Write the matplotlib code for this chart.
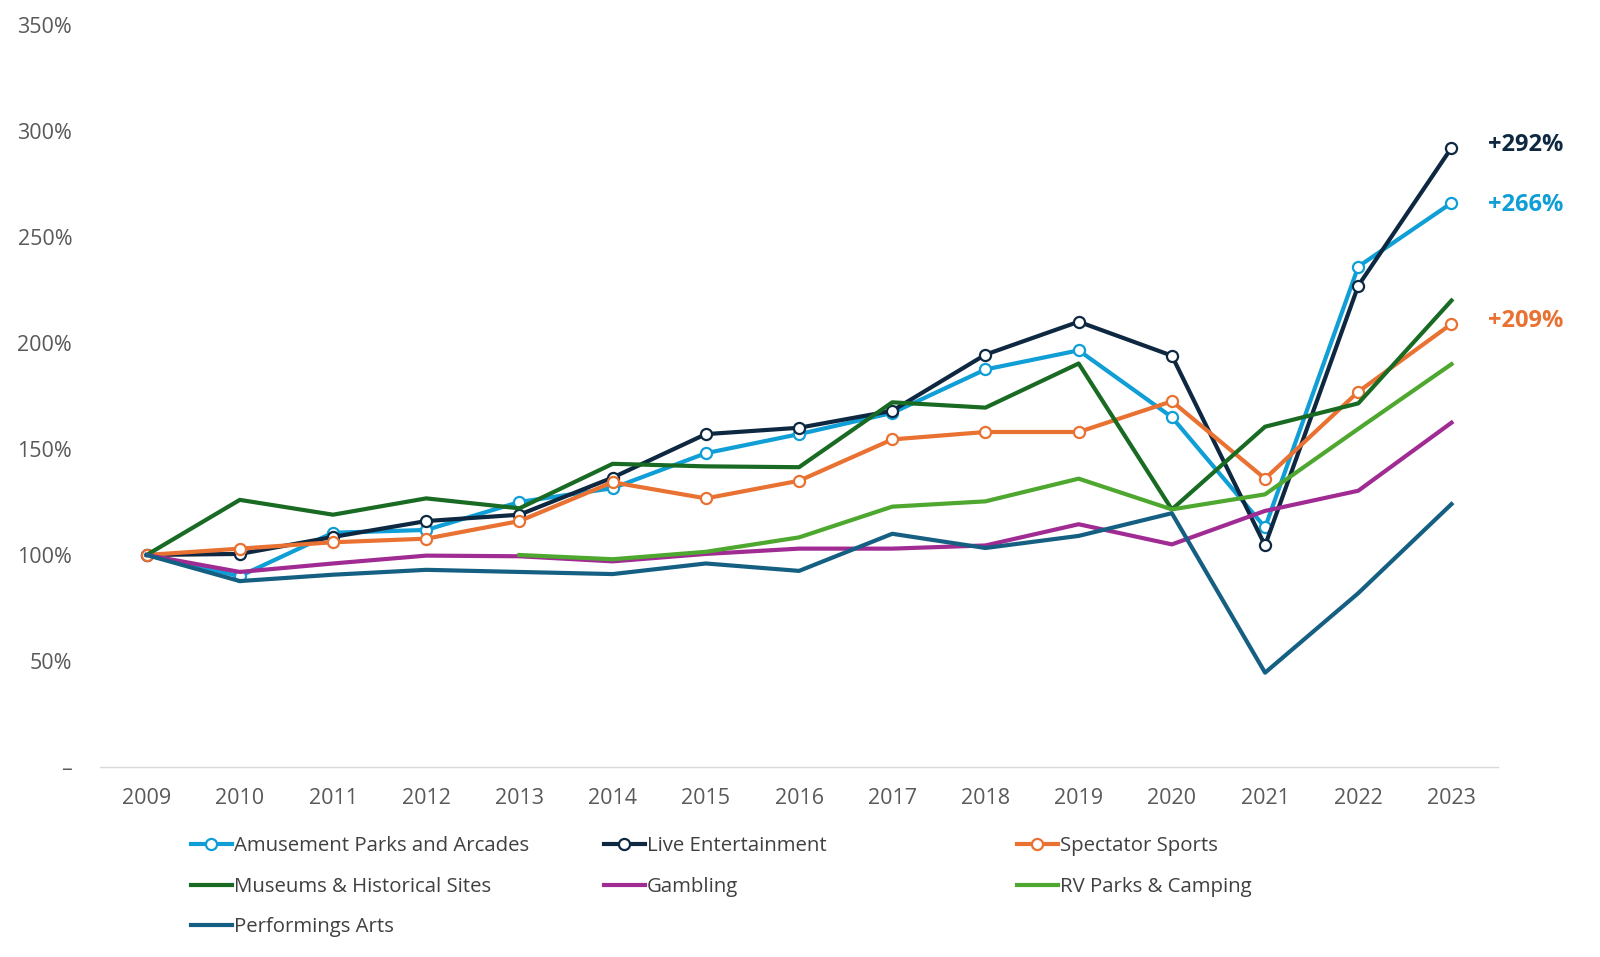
import numpy as np
import matplotlib.pyplot as plt
from matplotlib.ticker import FuncFormatter

plt.rcParams['font.family'] = ['Open Sans', 'DejaVu Sans']

# index values, 2009 = 100%
years = list(range(2009, 2024))
amusement = [100, 90, 110.5, 111.8, 125, 131.5, 148, 157, 167, 187.5, 196.5, 165, 113, 236, 266]
live = [100, 100.5, 108.5, 116, 119, 136.5, 157, 160, 168, 194.5, 210, 194, 104.5, 227, 292]
spectator = [100, 103, 106, 107.7, 116, 134.3, 126.7, 135, 154.5, 158, 158, 172.5, 136, 177, 209]
museums = [100, 126, 119, 126.7, 122, 143, 141.8, 141.4, 172, 169.5, 190.3, 121.5, 160.5, 171.5, 220]
gambling = [100, 92, 96, 99.7, 99.4, 97, 100.5, 103, 103, 104.5, 114.5, 105, 120.8, 130.3, 162.4]
rv = [np.nan, np.nan, np.nan, np.nan, 100, 98, 101.5, 108.3, 122.8, 125.3, 136, 121.5, 128.6, 159.5, 190]
performing = [100, 87.7, 90.7, 93, 92, 91, 96, 92.5, 110, 103.3, 109, 119.7, 44.5, 82, 124]

names = ['Amusement Parks and Arcades', 'Live Entertainment', 'Spectator Sports',
         'Museums & Historical Sites', 'Gambling', 'RV Parks & Camping', 'Performings Arts']
series = [amusement, live, spectator, museums, gambling, rv, performing]
colors = ['#0F9ED5', '#0E2841', '#E97132', '#196B24', '#A02B93', '#4EA72E', '#156082']
with_marker = [True, True, True, False, False, False, False]
# vertical nudge (points) of the end label, None = no label
label_dy = [-1.5, 2, 2, None, None, None, None]

fig = plt.figure(figsize=(16, 9.57), dpi=100)
ax = fig.add_axes([0.0625, 0.1985, 0.8738, 0.7755])

lines = []
for name, vals, c, mk in zip(names, series, colors, with_marker):
    if mk:
        ln, = ax.plot(years, vals, color=c, lw=3, marker='o', ms=8,
                      mfc='white', mec=c, mew=1.6, label=name)
    else:
        ln, = ax.plot(years, vals, color=c, lw=3, label=name)
    lines.append(ln)

# end labels
for vals, c, dy in zip(series, colors, label_dy):
    if dy is not None:
        ax.annotate(f'+{vals[-1]:.0f}%', xy=(years[-1], vals[-1]), xytext=(26, dy),
                    textcoords='offset points', va='center', ha='left',
                    fontsize=17, fontweight='bold', color=c, annotation_clip=False)

ax.set_xlim(2008.5, 2023.5)
ax.set_ylim(0, 350)
ax.set_xticks(years)
ax.set_yticks(range(0, 351, 50))
ax.yaxis.set_major_formatter(FuncFormatter(lambda v, p: '–' if v == 0 else f'{v:.0f}%'))
ax.tick_params(axis='both', length=0, labelsize=15.5, labelcolor='#595959')
ax.tick_params(axis='y', pad=20)
ax.tick_params(axis='x', pad=15)

for s in ['top', 'right', 'left']:
    ax.spines[s].set_visible(False)
ax.spines['bottom'].set_color('#D9D9D9')
ax.spines['bottom'].set_linewidth(1)

# legend: 3 columns, row-major
col_x = [191, 604, 1017]
row_y = [846, 887, 927]
for i, ln in enumerate(lines):
    x = col_x[i % 3] / 1600
    y = 1 - row_y[i // 3] / 957
    fig.legend(handles=[ln], loc='center left', bbox_to_anchor=(x, y), frameon=False,
               borderpad=0, borderaxespad=0, handlelength=2.0, handletextpad=0.1,
               fontsize=14.7, labelcolor='#404040')

fig.savefig('out.png', dpi=100)
